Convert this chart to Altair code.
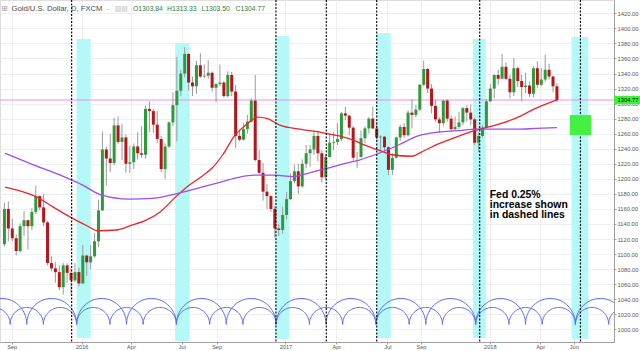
import altair as alt
import numpy as np
import pandas as pd

# ---------------- data (weekly bars) ----------------
first_week = "2015-08-19"  # Wednesday of the first weekly bar

opens = [
    1113, 1160, 1134, 1121, 1104, 1137, 1145, 1137, 1156, 1177, 1162, 1142, 1088, 1081, 1076, 1056, 1085, 1075, 1065, 1076,
    1061, 1098, 1089, 1097, 1117, 1158, 1239, 1227, 1221, 1271, 1249, 1255, 1220, 1222, 1243, 1234, 1232, 1293, 1290, 1272,
    1253, 1213, 1243, 1275, 1298, 1317, 1340, 1366, 1328, 1323, 1351, 1336, 1337, 1341, 1321, 1326, 1328, 1310, 1338, 1316,
    1257, 1252, 1266, 1276, 1304, 1225, 1208, 1183, 1177, 1160, 1134, 1132,
    1152, 1173, 1197, 1210, 1190, 1220, 1234, 1239, 1257, 1234, 1202, 1229, 1248, 1249, 1253, 1287, 1284, 1268, 1229, 1229,
    1254, 1267, 1280, 1267, 1255, 1256, 1242, 1212, 1228, 1255, 1269, 1258, 1288, 1285, 1292, 1325, 1346, 1320, 1297, 1279,
    1274, 1304, 1280, 1266, 1269, 1275, 1294, 1288, 1279, 1248, 1257, 1268,
    1303, 1320, 1338, 1333, 1349, 1333, 1315, 1347, 1330, 1322, 1324, 1313, 1347, 1325, 1332, 1345, 1336, 1323,
]
highs = [
    1168, 1170, 1147, 1126, 1141, 1157, 1146, 1161, 1191, 1178, 1180, 1144, 1097, 1089, 1085, 1088, 1088, 1081, 1088, 1082,
    1112, 1099, 1112, 1128, 1172, 1263, 1243, 1260, 1281, 1283, 1273, 1259, 1244, 1247, 1262, 1270, 1297, 1303, 1293, 1290,
    1257, 1247, 1276, 1315, 1362, 1345, 1375, 1367, 1336, 1357, 1367, 1352, 1358, 1343, 1327, 1352, 1330, 1343, 1342, 1325,
    1265, 1274, 1285, 1307, 1338, 1238, 1221, 1193, 1178, 1164, 1140, 1163,
    1182, 1207, 1219, 1220, 1226, 1245, 1245, 1264, 1264, 1238, 1233, 1260, 1262, 1274, 1289, 1296, 1285, 1270, 1236, 1264,
    1270, 1282, 1296, 1276, 1258, 1257, 1243, 1234, 1256, 1272, 1274, 1291, 1306, 1298, 1326, 1357, 1347, 1326, 1305, 1282,
    1305, 1306, 1284, 1283, 1289, 1296, 1298, 1299, 1281, 1262, 1271, 1306,
    1326, 1339, 1345, 1366, 1355, 1338, 1361, 1349, 1338, 1341, 1329, 1350, 1356, 1347, 1365, 1353, 1337, 1327,
]
lows = [
    1110, 1117, 1117, 1098, 1102, 1124, 1106, 1132, 1153, 1158, 1137, 1085, 1077, 1062, 1052, 1046, 1062, 1046, 1063, 1057,
    1060, 1071, 1080, 1095, 1109, 1157, 1191, 1209, 1218, 1246, 1225, 1208, 1208, 1213, 1226, 1228, 1227, 1262, 1261, 1248,
    1209, 1200, 1241, 1270, 1250, 1310, 1335, 1317, 1310, 1313, 1334, 1334, 1333, 1316, 1302, 1323, 1308, 1308, 1310, 1241,
    1250, 1251, 1260, 1275, 1223, 1206, 1171, 1160, 1156, 1122, 1124, 1127,
    1146, 1172, 1194, 1180, 1188, 1214, 1216, 1232, 1223, 1195, 1198, 1228, 1238, 1245, 1250, 1278, 1258, 1224, 1214, 1228,
    1247, 1260, 1266, 1252, 1237, 1236, 1205, 1205, 1227, 1250, 1254, 1256, 1267, 1282, 1290, 1323, 1314, 1287, 1276, 1261,
    1270, 1276, 1262, 1264, 1266, 1271, 1276, 1271, 1245, 1236, 1255, 1268,
    1302, 1307, 1325, 1333, 1331, 1307, 1310, 1322, 1303, 1314, 1309, 1308, 1321, 1323, 1329, 1332, 1315, 1302,
]
closes = [
    1160, 1134, 1121, 1104, 1137, 1145, 1137, 1156, 1177, 1162, 1142, 1088, 1081, 1076, 1056, 1085, 1075, 1065, 1076, 1061,
    1098, 1089, 1097, 1117, 1158, 1239, 1227, 1221, 1271, 1249, 1255, 1220, 1222, 1243, 1234, 1232, 1293, 1290, 1272, 1253,
    1213, 1243, 1275, 1298, 1317, 1340, 1366, 1328, 1323, 1351, 1336, 1337, 1341, 1321, 1326, 1328, 1310, 1338, 1316, 1257,
    1252, 1266, 1276, 1304, 1225, 1208, 1183, 1177, 1160, 1134, 1132, 1152,
    1173, 1197, 1210, 1190, 1220, 1234, 1239, 1257, 1234, 1202, 1229, 1248, 1249, 1253, 1287, 1284, 1268, 1228, 1229, 1254,
    1267, 1280, 1267, 1255, 1256, 1242, 1212, 1228, 1255, 1269, 1258, 1288, 1285, 1292, 1325, 1346, 1320, 1297, 1279, 1274,
    1304, 1280, 1266, 1269, 1275, 1294, 1288, 1279, 1248, 1257, 1268, 1303,
    1320, 1338, 1333, 1349, 1333, 1315, 1347, 1330, 1322, 1324, 1313, 1347, 1325, 1332, 1345, 1336, 1323, 1304.77,
]

# moving averages
red_dates = ["2015-08-20", "2015-09-20", "2015-10-15", "2015-11-15", "2015-12-17", "2016-01-15", "2016-02-01",
             "2016-03-06", "2016-04-01", "2016-04-28", "2016-05-23", "2016-06-20", "2016-07-15", "2016-08-07",
             "2016-08-25", "2016-09-12", "2016-10-02", "2016-10-27", "2016-11-13", "2016-12-01", "2016-12-24",
             "2017-01-28", "2017-03-04", "2017-04-08", "2017-05-01", "2017-05-26", "2017-06-18", "2017-07-11",
             "2017-08-15", "2017-09-08", "2017-10-01", "2017-11-05", "2017-12-10", "2018-01-15", "2018-02-19",
             "2018-03-26", "2018-05-02"]
red_vals = [1189, 1183, 1176, 1162, 1148, 1137, 1131, 1132, 1138, 1145, 1156, 1176, 1192, 1204, 1215, 1232, 1256,
            1274, 1282, 1280, 1271, 1266, 1262, 1257, 1252, 1244, 1238, 1232, 1230, 1238, 1246, 1256, 1265, 1272,
            1281, 1294, 1305]
purple_dates = ["2015-08-20", "2015-10-12", "2015-12-03", "2016-01-05", "2016-02-06", "2016-03-30", "2016-05-10",
                "2016-06-26", "2016-08-05", "2016-09-10", "2016-10-10", "2016-11-07", "2016-12-12", "2017-01-16",
                "2017-02-09", "2017-03-17", "2017-04-21", "2017-05-14", "2017-06-18", "2017-07-23", "2017-08-27",
                "2017-10-01", "2017-11-05", "2017-12-10", "2018-01-15", "2018-02-19", "2018-03-26", "2018-05-02"]
purple_vals = [1234, 1218, 1203, 1192, 1179, 1173, 1174, 1181, 1189, 1196, 1202, 1205, 1205, 1203, 1207, 1214, 1221,
               1225, 1234, 1245, 1257, 1262, 1264, 1266, 1266, 1266, 1267, 1268]

# Fed rate hikes (dashed lines)
fed_dates = ["2015-12-17", "2016-12-16", "2017-03-16", "2017-06-14", "2017-12-15", "2018-06-13"]

# cyan cycle bands
band_start = ["2015-12-26", "2016-06-19", "2016-12-15", "2017-06-14", "2017-12-03", "2018-05-28"]
band_end = ["2016-01-20", "2016-07-15", "2017-01-09", "2017-07-09", "2017-12-26", "2018-06-27"]
band_top = [1385.8, 1380.5, 1389.8, 1393.8, 1385.8, 1388.5]
band_bottom = [988.4, 984.4, 987.1, 988.4, 988.4, 987.1]

# green target box
box_start, box_end = ["2018-05-25"], ["2018-07-02"]
box_top, box_bottom = [1284.8], [1258.2]

last_price = 1304.77
header_name = "Gold/U.S. Dollar, D, FXCM"
header_ohlc = ["O1303.84", "H1313.33", "L1303.50", "C1304.77"]
note_text = "Fed 0.25%\nincrease shown\nin dashed lines"
note_date, note_price = "2018-01-02", 1179.0

# time-cycle drawing tool parameters
cycle_anchor = "2015-12-26"
cycle_days = 178.2
cycle_base = 1006.5
cycle_families = {"half": (2, 34.5), "third": (3, 22.5)}  # divisions, arc height

x_ticks = ["2015-09-01", "2016-01-04", "2016-04-01", "2016-07-01", "2016-09-01", "2017-01-02", "2017-04-03",
           "2017-07-03", "2017-09-01", "2018-01-02", "2018-04-02", "2018-06-01"]
y_ticks = list(range(1000, 1421, 20))

# ---------------- frames ----------------
dates = pd.date_range(first_week, periods=len(closes), freq="7D").strftime("%Y-%m-%d")
candles = pd.DataFrame({"date": dates, "open": opens, "high": highs, "low": lows, "close": closes})
up = candles[candles["close"] >= candles["open"]]
down = candles[candles["close"] < candles["open"]]

red_ma = pd.DataFrame({"date": red_dates, "value": red_vals})
purple_ma = pd.DataFrame({"date": purple_dates, "value": purple_vals})
bands = pd.DataFrame({"start": band_start, "end": band_end, "top": band_top, "bottom": band_bottom})
fed = pd.DataFrame({"date": fed_dates})
box = pd.DataFrame({"start": box_start, "end": box_end, "top": box_top, "bottom": box_bottom})

rows = []
anchor = pd.Timestamp(cycle_anchor)
t = np.linspace(0, np.pi, 41)
for fam, (div, h) in cycle_families.items():
    per = cycle_days / div
    for k in range(-3 * div, 6 * div):
        s = anchor + pd.Timedelta(days=k * per)
        for i, tt in enumerate(t):
            d = s + pd.Timedelta(days=per * (1 - np.cos(tt)) / 2)
            rows.append({"date": int(d.value // 10**6), "price": cycle_base + h * np.sin(tt),
                         "arc": f"{fam}{k}", "i": i})
arcs = pd.DataFrame(rows)

# ---------------- scales / helpers ----------------
def dt(s):
    p = pd.Timestamp(s)
    return alt.DateTime(year=p.year, month=p.month, date=p.day, utc=True)

xs = alt.Scale(type="utc", domain=[dt("2015-08-20"), dt("2018-08-03")], nice=False)
ys = alt.Scale(domain=[983.1, 1437.7], zero=False, nice=False)

FONT = "Liberation Sans"

x_axis = alt.Axis(values=[dt(v) for v in x_ticks],
                  labelExpr="utcFormat(datum.value, '%m') === '01' ? utcFormat(datum.value, '%Y') : utcFormat(datum.value, '%b')",
                  title=None, grid=True, gridColor="#efefef", gridWidth=1, domainColor="#a0a0a0",
                  tickColor="#a0a0a0", tickSize=2, labelFontSize=5.6, labelColor="#555555", labelPadding=0.5,
                  labelOverlap=False, labelFont=FONT)
y_axis = alt.Axis(values=y_ticks, orient="right", format=".2f", title=None, grid=True, gridColor="#efefef",
                  domainColor="#a0a0a0", tickColor="#a0a0a0", tickSize=2, labelFontSize=5.8,
                  labelColor="#555555", labelPadding=1, labelOverlap=False, labelFont=FONT)


def X(field):
    return alt.X(field, type="temporal", scale=xs, axis=x_axis)


def Y(field):
    return alt.Y(field, type="quantitative", scale=ys, axis=y_axis)


# ---------------- layers ----------------
band_layer = alt.Chart(bands).mark_rect(color="#b4f8f8").encode(
    x=X("start"), x2="end", y=Y("top"), y2="bottom")

arc_layer = alt.Chart(arcs).mark_line(color="#5c6cf2", strokeWidth=1, clip=True).encode(
    x=X("date"), y=Y("price"), detail="arc:N", order="i:Q")

pink = alt.Chart(pd.DataFrame({"price": [last_price]})).mark_rule(color="#f08cf0", strokeWidth=1).encode(
    y=Y("price"))

wicks = alt.Chart(candles).mark_rule(color="#9a9a9a", strokeWidth=1).encode(
    x=X("date"), y=Y("low"), y2="high")
up_bodies = alt.Chart(up).mark_bar(size=3, color="#2e9b3a").encode(x=X("date"), y=Y("open"), y2="close")
down_bodies = alt.Chart(down).mark_bar(size=3, color="#b3161b").encode(x=X("date"), y=Y("open"), y2="close")

red_layer = alt.Chart(red_ma).mark_line(strokeWidth=1.3, interpolate="monotone", color="#e8262a").encode(
    x=X("date"), y=Y("value"))
purple_layer = alt.Chart(purple_ma).mark_line(strokeWidth=1.3, interpolate="monotone", color="#9d4df0").encode(
    x=X("date"), y=Y("value"))

fed_layer = alt.Chart(fed).mark_rule(color="#111111", strokeWidth=1.2, strokeDash=[2, 1.5]).encode(x=X("date"))

box_layer = alt.Chart(box).mark_rect(color="#45f045").encode(x=X("start"), x2="end", y=Y("top"), y2="bottom")

note = alt.Chart(pd.DataFrame({"date": [note_date], "price": [note_price], "label": [note_text]})).mark_text(
    align="left", baseline="middle", lineBreak="\n", font=FONT, fontWeight="bold", fontSize=10.4,
    lineHeight=10, color="black").encode(x=X("date"), y=Y("price"), text="label:N")

tag = pd.DataFrame({"price": [last_price], "label": [f"{last_price:.2f}"]})
tag_box = alt.Chart(tag).transform_calculate(top="datum.price + 5.6", bot="datum.price - 5.6").mark_rect(
    color="#3df23d").encode(x=alt.value(614), x2=alt.value(640), y=Y("top:Q"), y2="bot:Q")
tag_text = alt.Chart(tag).mark_text(align="left", baseline="middle", fontSize=5.8, font=FONT,
                                    color="black").encode(x=alt.value(617.5), y=Y("price"), text="label:N")

hdr = pd.DataFrame({"t": [header_name]})
icon = alt.Chart(pd.DataFrame({"t": ["⊞"]})).mark_text(align="left", baseline="middle", fontSize=8,
                                                        color="#9a9a9a", font="DejaVu Sans").encode(
    x=alt.value(1), y=alt.value(9), text="t:N")
name = alt.Chart(hdr).mark_text(align="left", baseline="middle", fontSize=7.7, font=FONT,
                                color="#4d4d4d").encode(x=alt.value(11.5), y=alt.value(9), text="t:N")
dash_icon = alt.Chart(pd.DataFrame({"t": ["-"]})).mark_text(align="left", baseline="middle", fontSize=7,
                                                             color="#9a9a9a", font=FONT).encode(
    x=alt.value(107), y=alt.value(9), text="t:N")
small_box1 = alt.Chart(pd.DataFrame({"k": [0]})).mark_rect(color="#e2e2e2", stroke="#cfcfcf",
                                                            strokeWidth=0.6).encode(
    x=alt.value(115.5), x2=alt.value(120.5), y=alt.value(6.5), y2=alt.value(11.5))
small_box2 = alt.Chart(pd.DataFrame({"k": [0]})).mark_rect(color="#e2e2e2", stroke="#cfcfcf",
                                                            strokeWidth=0.6).encode(
    x=alt.value(122), x2=alt.value(127), y=alt.value(6.5), y2=alt.value(11.5))
ohlc_layers = []
for txt, px in zip(header_ohlc, [133, 167, 201.5, 235.5]):
    ohlc_layers.append(alt.Chart(pd.DataFrame({"t": [txt]})).mark_text(
        align="left", baseline="middle", fontSize=6.8, font=FONT, color="#2e7d3a").encode(
        x=alt.value(px), y=alt.value(9), text="t:N"))

chart = alt.layer(
    band_layer, arc_layer, pink, wicks, up_bodies, down_bodies, red_layer, purple_layer, fed_layer, box_layer,
    note, tag_box, tag_text, icon, name, dash_icon, small_box1, small_box2, *ohlc_layers
).properties(
    width=614, height=342,
    padding={"left": 0, "top": 0, "right": 26, "bottom": 9},
    autosize=alt.AutoSizeParams(type="none"),
    background="white",
).configure_view(stroke=None).configure(font=FONT)

chart.save("out.html", embed_options={"renderer": "svg", "actions": False})
